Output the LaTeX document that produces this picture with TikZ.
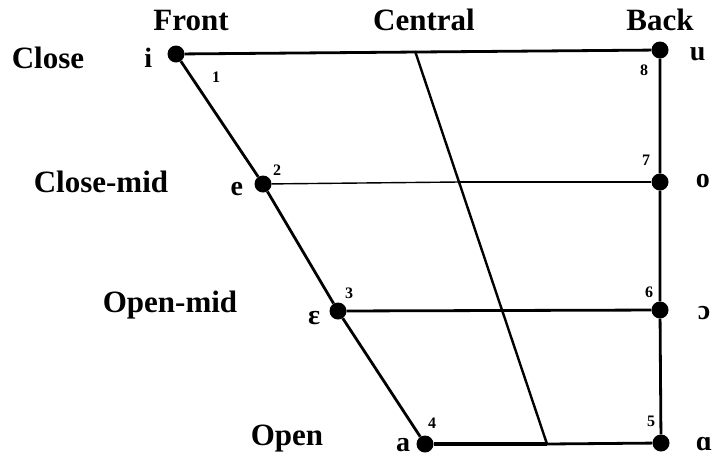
\documentclass[tikz,border=0pt]{standalone}
\usepackage{fontspec}
\setmainfont{Liberation Serif}
\usetikzlibrary{positioning}

\begin{document}
\begin{tikzpicture}[
    x=1pt, y=-1pt,
    dot/.style={circle, fill=black, inner sep=0pt, minimum size=17pt},
    vowel/.style={inner sep=0pt, font=\fontsize{28}{28}\selectfont\bfseries},
    head/.style={inner sep=0pt, font=\fontsize{31}{31}\selectfont\bfseries},
    num/.style={inner sep=0pt, font=\fontsize{16}{16}\selectfont\bfseries},
    edge/.style={line width=2.8pt},
    lightedge/.style={line width=1.4pt}
]
\useasboundingbox (0,0) rectangle (714,459);

% vowel points
\node (i)  [dot] at (176,54)  {};
\node (e)  [dot] at (263,184) {};
\node (eh) [dot] at (338,311) {};
\node (a)  [dot] at (425,444) {};
\node (u)  [dot] at (660,50)  {};
\node (o)  [dot] at (660,182) {};
\node (oh) [dot] at (660,310) {};
\node (ah) [dot] at (661,443) {};

% central line end points
\coordinate (ctop) at (415,51);
\coordinate (cmid) at (459,182);
\coordinate (cbot) at (547,444);

% column and row headings
\node (front)    [head] at (191,20)  {Front};
\node (central)  [head] at (424,20)  {Central};
\node (back)     [head] at (660,20)  {Back};
\node (close)    [head] at (48,58)   {Close};
\node (closemid) [head] at (101,182) {Close-mid};
\node (openmid)  [head] at (170,305) {Open-mid};
\node (open)     [head] at (287,439) {Open};

% vowel letters
\node (li)  [vowel, left=15pt of i,  yshift=-4pt] {i};
\node (le)  [vowel, left=11pt of e,  yshift=-5pt] {e};
\node (leh) [vowel, left=9pt of eh,  yshift=-7pt] {ɛ};
\node (la)  [vowel, left=6pt of a,   yshift=-1pt] {a};
\node (lu)  [vowel, right=21pt of u, yshift=-4pt] {u};
\node (lo)  [vowel, right=27pt of o, yshift=1pt]  {o};
\node (loh) [vowel, right=29pt of oh, yshift=-3pt] {ɔ};
\node (lah) [vowel, right=26pt of ah, yshift=-1pt] {ɑ};

% numbers
\node (n1) [num] at ([shift={(40,23)}]i.center)    {1};
\node (n2) [num] at ([shift={(14,-14)}]e.center)   {2};
\node (n3) [num] at ([shift={(11,-18)}]eh.center)  {3};
\node (n4) [num] at ([shift={(7,-21)}]a.center)    {4};
\node (n5) [num] at ([shift={(-10,-22)}]ah.center) {5};
\node (n6) [num] at ([shift={(-11,-18)}]oh.center) {6};
\node (n7) [num] at ([shift={(-14,-22)}]o.center)  {7};
\node (n8) [num] at ([shift={(-16,20)}]u.center)   {8};

% outline
\draw [edge] (i) -- (u);
\draw [edge] (i) -- (e) -- (eh) -- (a);
\draw [edge] (u) -- (o) -- (oh) -- (ah);
\draw [edge, line width=3.6pt] (a) -- (cbot);
\draw [edge] (cbot) -- (ah);

% inner lines
\draw [lightedge] (e) -- (cmid);
\draw [edge] (cmid) -- (o);
\draw [edge] (eh) -- (oh);
\draw [edge, line width=2.4pt] (ctop) -- (cbot);
\end{tikzpicture}
\end{document}
